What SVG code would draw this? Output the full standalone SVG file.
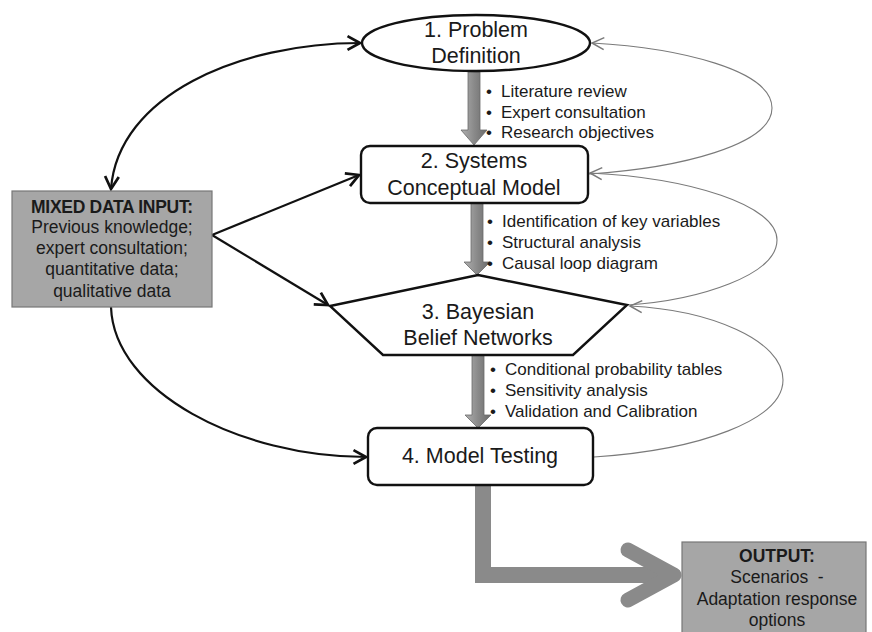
<svg xmlns="http://www.w3.org/2000/svg" width="872" height="632" viewBox="0 0 872 632">
<style>
text{font-family:"Liberation Sans",Arial,sans-serif;fill:#1a1a1a}
.node{font-size:21.5px;text-anchor:middle}
.bul{font-size:17px}
.box{font-size:17.5px;text-anchor:middle}
.bold{font-weight:bold}
.outline{fill:#fff;stroke:#111;stroke-width:2.4}
.gbox{fill:#a6a6a6;stroke:#777;stroke-width:1.2}
.blk{fill:none;stroke:#111;stroke-width:2.2}
.thin{fill:none;stroke:#7a7a7a;stroke-width:1.1}
.block{fill:url(#grad);stroke:#6a6a6a;stroke-width:0.8}
</style>
<defs>
<linearGradient id="grad" x1="0" y1="0" x2="1" y2="0">
<stop offset="0" stop-color="#b0b0b0"/>
<stop offset="0.5" stop-color="#8a8a8a"/>
<stop offset="1" stop-color="#6a6a6a"/>
</linearGradient>
<marker id="ab" markerUnits="userSpaceOnUse" markerWidth="20" markerHeight="20" viewBox="-12 -8 14 16" refX="0" refY="0" orient="auto-start-reverse">
<path d="M-10,-5.5 L0,0 L-10,5.5" fill="none" stroke="#111" stroke-width="2.2"/>
</marker>
<marker id="at" markerUnits="userSpaceOnUse" markerWidth="16" markerHeight="16" viewBox="-10 -6 12 12" refX="0" refY="0" orient="auto">
<path d="M-9,-4.5 L0,0 L-9,4.5" fill="none" stroke="#7a7a7a" stroke-width="1.1"/>
</marker>
</defs>

<g id="connectors">
<path class="blk" d="M111,189 C 118,95 240,43 360,43" marker-start="url(#ab)" marker-end="url(#ab)"/>
<path class="blk" d="M212,235 L359,175" marker-end="url(#ab)"/>
<path class="blk" d="M212,235 L328,305" marker-end="url(#ab)"/>
<path class="blk" d="M111,307 C 114,392 240,457 366,457" marker-end="url(#ab)"/>
<path class="thin" d="M589,174 C 680,168 772,145 772,108 C 772,70 680,48 592,43" marker-end="url(#at)"/>
<path class="thin" d="M628,305 C 700,300 777,275 777,240 C 777,205 690,178 590,173" marker-end="url(#at)"/>
<path class="thin" d="M594,457 C 700,450 783,420 783,380 C 783,340 710,310 630,306" marker-end="url(#at)"/>
<polygon class="block" points="468,72 480,72 480,130 487,130 474,145 461,130 468,130"/>
<polygon class="block" points="471,203 483,203 483,262 490,262 477,275 464,262 471,262"/>
<polygon class="block" points="472,355 484,355 484,415 491,415 478,428 465,415 472,415"/>
<path d="M483,486 V575 H670" fill="none" stroke="#8a8a8a" stroke-width="16"/>
<path d="M628,550 L674,575 L628,600" fill="none" stroke="#8a8a8a" stroke-width="15" stroke-linecap="round" stroke-linejoin="round"/>
</g>

<g id="n1">
<ellipse class="outline" cx="476" cy="43" rx="114" ry="28"/>
<text class="node" x="476" y="37">1. Problem</text>
<text class="node" x="476" y="63">Definition</text>
</g>

<g id="n2">
<rect class="outline" x="361" y="146" width="227" height="57" rx="9"/>
<text class="node" x="474" y="168">2. Systems</text>
<text class="node" x="474" y="195">Conceptual Model</text>
</g>

<g id="n3">
<polygon class="outline" points="478,275 627,305 573,355 383,355 330,306"/>
<text class="node" x="478" y="319">3. Bayesian</text>
<text class="node" x="478" y="345">Belief Networks</text>
</g>

<g id="n4">
<rect class="outline" x="368" y="428" width="225" height="57" rx="9"/>
<text class="node" x="480" y="463">4. Model Testing</text>
</g>

<g id="input">
<rect class="gbox" x="12" y="191" width="200" height="116"/>
<text class="box bold" x="112" y="213" letter-spacing="-0.3">MIXED DATA INPUT:</text>
<text class="box" x="112" y="233">Previous knowledge;</text>
<text class="box" x="112" y="254">expert consultation;</text>
<text class="box" x="112" y="275">quantitative data;</text>
<text class="box" x="112" y="297">qualitative data</text>
</g>

<g id="output">
<rect class="gbox" x="682" y="542" width="184" height="100"/>
<text class="box bold" x="777" y="562">OUTPUT:</text>
<text class="box" x="777" y="583">Scenarios&#160; -</text>
<text class="box" x="777" y="605">Adaptation response</text>
<text class="box" x="777" y="626">options</text>
</g>

<g id="bullets1">
<text class="bul" x="486" y="97">•</text><text class="bul" x="501" y="97">Literature review</text>
<text class="bul" x="486" y="118">•</text><text class="bul" x="501" y="118">Expert consultation</text>
<text class="bul" x="486" y="138">•</text><text class="bul" x="501" y="138">Research objectives</text>
</g>
<g id="bullets2">
<text class="bul" x="487" y="227">•</text><text class="bul" x="502" y="227">Identification of key variables</text>
<text class="bul" x="487" y="248">•</text><text class="bul" x="502" y="248">Structural analysis</text>
<text class="bul" x="487" y="269">•</text><text class="bul" x="502" y="269">Causal loop diagram</text>
</g>
<g id="bullets3">
<text class="bul" x="490" y="375">•</text><text class="bul" x="505" y="375">Conditional probability tables</text>
<text class="bul" x="490" y="396">•</text><text class="bul" x="505" y="396">Sensitivity analysis</text>
<text class="bul" x="490" y="417">•</text><text class="bul" x="505" y="417">Validation and Calibration</text>
</g>
</svg>
